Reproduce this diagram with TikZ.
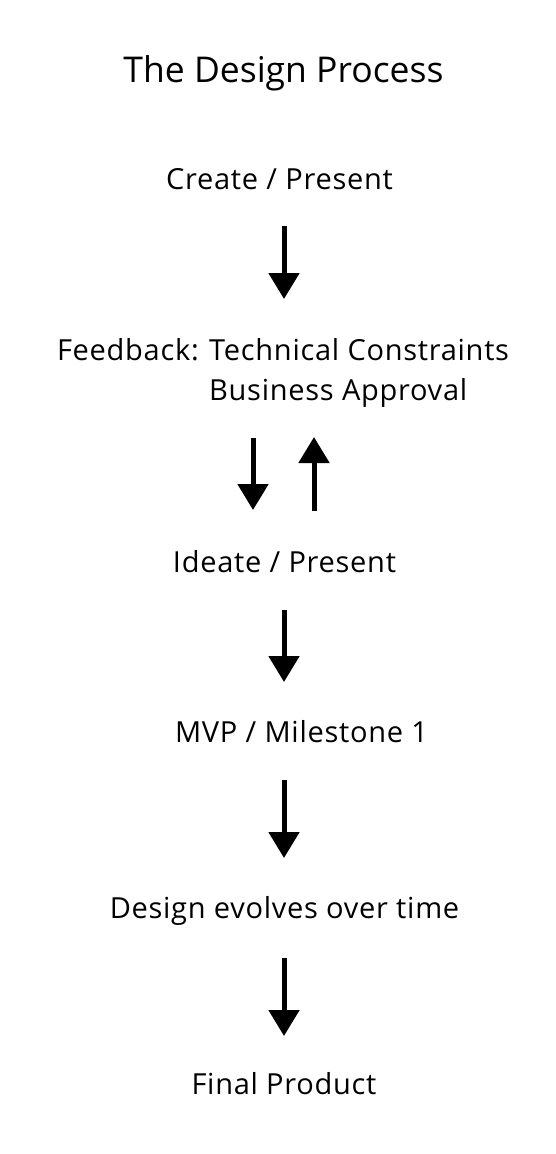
\documentclass[tikz,border=0pt]{standalone}
\usepackage{fontspec}
\setmainfont{Open Sans}
\newfontfamily\lblfont[LetterSpace=2.5]{Open Sans}
\usetikzlibrary{arrows.meta}
\tikzset{
  lbl/.style={anchor=base, inner sep=0pt, font=\lblfont\fontsize{29}{35}\selectfont},
  ttl/.style={anchor=base, inner sep=0pt, font=\fontsize{35.5}{42}\selectfont},
  flow/.style={line width=5pt, line cap=butt, -{Triangle[width=30pt,length=26pt]}}
}
\begin{document}
\begin{tikzpicture}[x=1pt,y=-1pt]
\useasboundingbox (0,0) rectangle (556,1154);
\node[ttl] (title) at (283.5,82) {The Design Process};
\node[lbl] (create) at (279.5,189) {Create / Present};
\node[lbl, anchor=base west] (fb) at (209,360) {Technical Constraints};
\node[lbl, anchor=base east] (fbl) at ([xshift=-10pt]fb.base west) {Feedback:};
\node[lbl, anchor=base west] (biz) at (209,400) {Business Approval};
\node[lbl] (ideate) at (284.5,572) {Ideate / Present};
\node[lbl] (mvp) at (301.5,742) {MVP / Milestone 1};
\node[lbl] (evolve) at (284.5,918) {Design evolves over time};
\node[lbl] (final) at (284,1094) {Final Product};
% arrow endpoints
\coordinate (a1s) at (284,226); \coordinate (a1e) at (284,299);
\coordinate (a2s) at (253,438); \coordinate (a2e) at (253,510);
\coordinate (a3s) at (314,511); \coordinate (a3e) at (314,437);
\coordinate (a4s) at (284,610); \coordinate (a4e) at (284,682);
\coordinate (a5s) at (284,780); \coordinate (a5e) at (284,858);
\coordinate (a6s) at (284,958); \coordinate (a6e) at (284,1036);
\draw[flow] (a1s) -- (a1e);
\draw[flow] (a2s) -- (a2e);
\draw[flow] (a3s) -- (a3e);
\draw[flow] (a4s) -- (a4e);
\draw[flow] (a5s) -- (a5e);
\draw[flow] (a6s) -- (a6e);
\end{tikzpicture}
\end{document}
